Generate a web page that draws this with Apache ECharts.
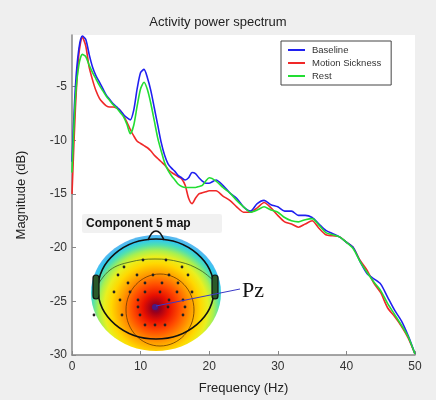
<!DOCTYPE html>
<html>
<head>
<meta charset="utf-8">
<script src="https://cdn.jsdelivr.net/npm/echarts@6/dist/echarts.min.js"></script>
<style>
html,body{margin:0;padding:0;background:#efefef;}
#chart{width:436px;height:400px;}
</style>
</head>
<body>
<div id="chart"></div>
<script>
var freq = [0,0.5,1,1.5,2,2.5,3,3.5,4,4.5,5,5.5,6,6.5,7,7.5,8,8.5,9,9.5,10,10.5,11,11.5,12,12.5,13,13.5,14,14.5,15,15.5,16,16.5,17,17.5,18,18.5,19,19.5,20,
  21,22,23,24,25,26,27,28,29,30,31,32,33,34,35,36,37,38,39,40,41,42,43,44,45,46,47,48,49,50];
var baseline = [-12,-5,-1.5,-0.3,-0.6,-2.0,-3.2,-4.0,-4.6,-5.2,-5.8,-6.2,-6.6,-6.9,-7.2,-7.6,-7.9,-8.1,-7.2,-5.2,-3.7,-3.4,-4.2,-5.4,-7.0,-8.6,-10.2,-11.4,-12.2,-12.6,-12.9,-13.3,-13.5,-13.7,-13.5,-13.0,-13.1,-13.5,-13.8,-14.0,-14.0,
  -13.7,-14.2,-14.9,-15.4,-16.2,-16.6,-15.9,-15.6,-16.0,-16.2,-16.6,-16.6,-17.0,-17.0,-17.2,-17.8,-18.4,-18.7,-19.0,-19.5,-20.0,-21.3,-22.4,-22.9,-23.4,-24.6,-25.8,-26.8,-28.2,-29.9];
var motionSickness = [-15,-7,-2,-0.4,-1.2,-3.2,-4.4,-5.4,-6.1,-6.5,-6.8,-6.9,-6.9,-7.0,-7.2,-7.7,-8.3,-9.0,-9.6,-10.1,-10.3,-10.5,-10.7,-11.0,-11.4,-11.7,-12.0,-12.3,-12.7,-13.0,-13.2,-13.4,-13.6,-14.2,-15.4,-15.9,-15.4,-15.0,-14.9,-14.8,-14.7,
  -14.7,-15.2,-15.6,-16.2,-16.7,-16.7,-16.3,-15.8,-16.3,-17.0,-17.6,-17.8,-18.1,-17.8,-17.5,-18.2,-18.8,-18.9,-19.0,-19.5,-20.0,-21.2,-22.1,-23.3,-24.2,-25.6,-26.4,-27.3,-28.4,-29.9];
var rest = [-13,-6,-3,-2.0,-2.2,-3.0,-3.7,-4.3,-4.9,-5.4,-5.9,-6.3,-6.7,-7.0,-7.4,-7.8,-8.5,-9.4,-8.6,-6.8,-5.2,-4.6,-5.3,-6.6,-8.2,-9.8,-11.0,-12.1,-12.8,-13.3,-13.7,-14.1,-14.3,-14.4,-14.4,-14.4,-14.4,-14.3,-14.2,-13.8,-13.5,
  -13.8,-14.4,-14.9,-15.6,-16.2,-16.7,-16.5,-16.2,-16.5,-16.7,-17.2,-17.5,-17.6,-17.4,-17.3,-17.9,-18.6,-18.8,-19.0,-19.5,-20.1,-21.3,-22.3,-23.2,-24.0,-25.2,-26.2,-27.2,-28.3,-29.9];
var seriesNames = ['Baseline','Motion Sickness','Rest'];
var xTicks = [0,10,20,30,40,50];
var yTicks = [-30,-25,-20,-15,-10,-5];

function pairs(arr){ return freq.map(function(f,i){ return [f, arr[i]]; }); }

var electrodes = [
  [143,260],[166,260],[124,267],[182,267],
  [118,275],[137,275],[153,275],[169,275],[188,275],
  [128,283],[145,283],[162,283],[178,283],
  [114,292],[130,292],[145,292],[160,292],[177,292],[192,292],
  [120,300],[138,300],[169,300],[183,300],
  [138,307],[168,307],[185,307],
  [122,315],[140,315],[183,315],
  [145,325],[155,325],[165,325],[94,315]
];
var gfx = [];
gfx.push({type:'rect', shape:{x:82,y:214,width:140,height:19,r:2}, style:{fill:'rgba(238,238,238,0.85)'}, z:100});
gfx.push({type:'text', x:86, y:224, style:{text:'Component 5 map', fill:'#111', font:'bold 12px "Liberation Sans", Arial, sans-serif', textVerticalAlign:'middle'}, z:101});
gfx.push({type:'ellipse', shape:{cx:156,cy:293,rx:65,ry:58}, style:{fill:{type:'radial',x:0.5,y:0.63,r:0.62,colorStops:[
  {offset:0,color:'#5a0a5a'},{offset:0.07,color:'#a00018'},{offset:0.18,color:'#e81000'},{offset:0.32,color:'#ff4a00'},
  {offset:0.48,color:'#ff9a00'},{offset:0.62,color:'#ffd800'},{offset:0.72,color:'#e8f020'},{offset:0.8,color:'#a8f050'},
  {offset:0.88,color:'#50e0b0'},{offset:0.95,color:'#30c8f0'},{offset:1,color:'#58b8f0'}]}}, z:100});
gfx.push({type:'ellipse', shape:{cx:160,cy:310,rx:34,ry:36}, style:{fill:null, stroke:'#6a3a00', lineWidth:0.8}, z:101});
gfx.push({type:'polyline', shape:{points:[[97,286],[110,270],[130,262],[155,259],[180,262],[200,270],[215,282]], smooth:0.4}, style:{stroke:'#3a5a20', lineWidth:0.8, fill:null}, z:101});
gfx.push({type:'ellipse', shape:{cx:156,cy:289,rx:58,ry:50}, style:{fill:null, stroke:'#111', lineWidth:1.6}, z:102});
gfx.push({type:'polyline', shape:{points:[[148,240],[152,233],[156,231],[160,233],[164,240]], smooth:0.3}, style:{stroke:'#111', lineWidth:1.6, fill:null}, z:102});
gfx.push({type:'rect', shape:{x:93,y:275,width:6,height:24,r:3}, style:{fill:'#2a5a2a', stroke:'#111', lineWidth:1.2}, z:102});
gfx.push({type:'rect', shape:{x:212,y:275,width:6,height:24,r:3}, style:{fill:'#2a5a2a', stroke:'#111', lineWidth:1.2}, z:102});
electrodes.forEach(function(p){
  gfx.push({type:'circle', shape:{cx:p[0],cy:p[1],r:1.4}, style:{fill:'#222'}, z:103});
});
gfx.push({type:'circle', shape:{cx:155,cy:307,r:3}, style:{fill:'#4a1a80'}, z:103});
gfx.push({type:'line', shape:{x1:156,y1:306,x2:240,y2:289}, style:{stroke:'#3a3ac8', lineWidth:1}, z:104});
gfx.push({type:'text', x:242, y:291, style:{text:'Pz', fill:'#111', font:'22px "Liberation Serif", "DejaVu Serif", serif', textVerticalAlign:'middle'}, z:104});

var chart = echarts.init(document.getElementById('chart'));
chart.setOption({
  backgroundColor:'#efefef',
  animation:false,
  title:{text:'Activity power spectrum', left:'center', top:11, textStyle:{fontSize:13, fontWeight:'normal', color:'#222', fontFamily:'"Liberation Sans", Arial, sans-serif'}},
  grid:{left:72, right:21, top:35, bottom:44, show:true, backgroundColor:'#ffffff', borderWidth:0},
  legend:{
    data:seriesNames, orient:'vertical', left:281, top:41, itemWidth:17, itemHeight:2, itemGap:3,
    icon:'rect', backgroundColor:'#ffffff', borderColor:'#444', borderWidth:1, padding:[4,10,4,7],
    textStyle:{fontSize:9.5, color:'#333', padding:[0,0,0,2], fontFamily:'"Liberation Sans", Arial, sans-serif'}
  },
  xAxis:{
    type:'value', min:xTicks[0], max:xTicks[xTicks.length-1], interval:10,
    name:'Frequency (Hz)', nameLocation:'middle', nameGap:27,
    nameTextStyle:{fontSize:13, color:'#222', fontFamily:'"Liberation Sans", Arial, sans-serif'},
    axisLine:{lineStyle:{color:'#888', width:1.5}},
    axisTick:{inside:true, length:4, lineStyle:{color:'#888'}},
    axisLabel:{fontSize:12, color:'#333', margin:6, fontFamily:'"Liberation Sans", Arial, sans-serif'},
    splitLine:{show:false}
  },
  yAxis:{
    type:'value', min:yTicks[0], max:-0.2, interval:5,
    name:'Magnitude (dB)', nameLocation:'middle', nameGap:44,
    nameTextStyle:{fontSize:13, color:'#222', fontFamily:'"Liberation Sans", Arial, sans-serif'},
    axisLine:{lineStyle:{color:'#888', width:1.5}},
    axisTick:{inside:true, length:4, lineStyle:{color:'#888'}},
    axisLabel:{fontSize:12, color:'#333', margin:5, showMaxLabel:false, fontFamily:'"Liberation Sans", Arial, sans-serif',
      formatter:function(v){ return yTicks.indexOf(v) >= 0 ? String(v) : ''; }},
    splitLine:{show:false}
  },
  series:[
    {name:seriesNames[0], type:'line', data:pairs(baseline), showSymbol:false, smooth:0.25, lineStyle:{color:'#2020f0', width:1.6}, itemStyle:{color:'#2020f0'}, z:3},
    {name:seriesNames[1], type:'line', data:pairs(motionSickness), showSymbol:false, smooth:0.25, lineStyle:{color:'#f02828', width:1.6}, itemStyle:{color:'#f02828'}, z:2},
    {name:seriesNames[2], type:'line', data:pairs(rest), showSymbol:false, smooth:0.25, lineStyle:{color:'#22dd33', width:1.6}, itemStyle:{color:'#22dd33'}, z:4}
  ],
  graphic:gfx
});
</script>
</body>
</html>
